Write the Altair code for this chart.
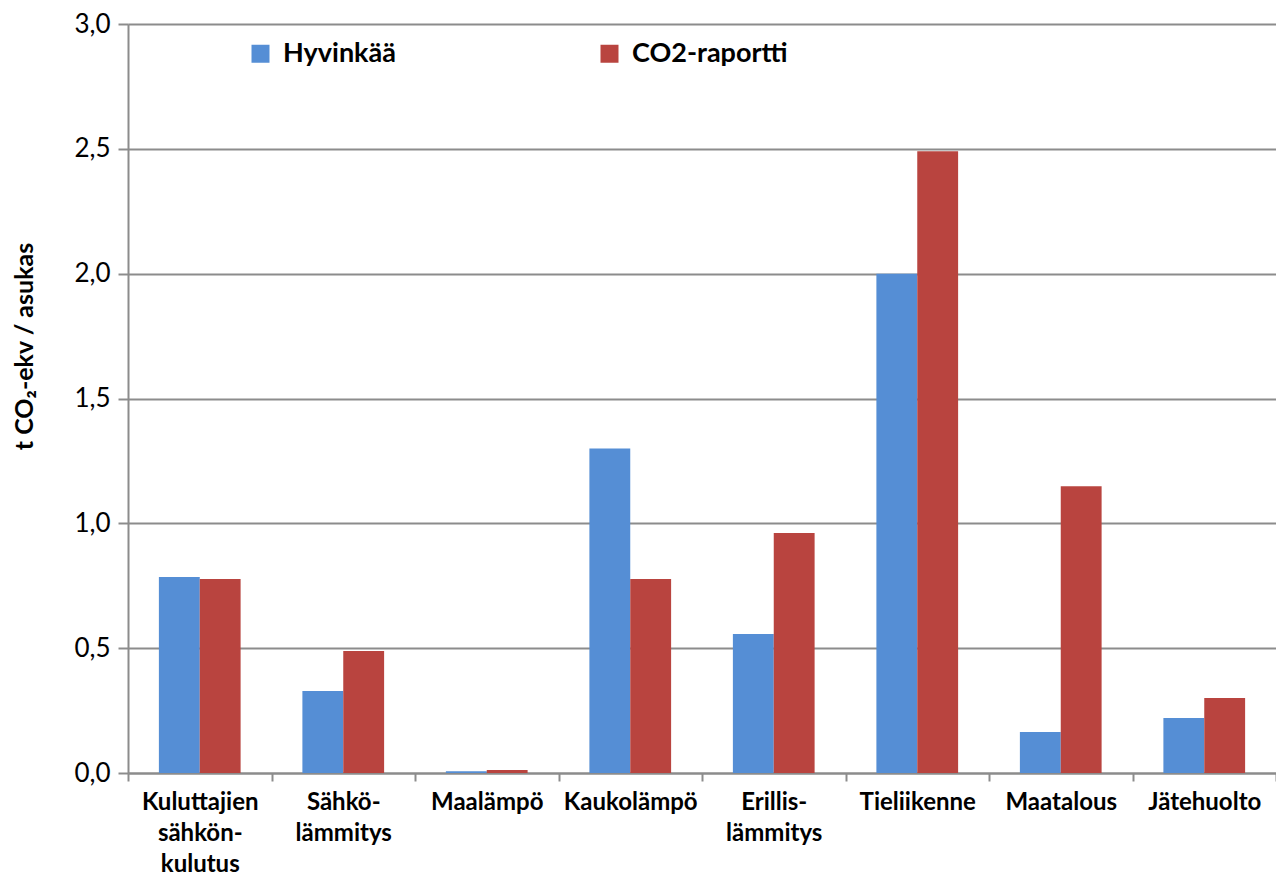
import altair as alt
import pandas as pd

categories = ["Kuluttajien\nsähkön-\nkulutus", "Sähkö-\nlämmitys", "Maalämpö", "Kaukolämpö",
              "Erillis-\nlämmitys", "Tieliikenne", "Maatalous", "Jätehuolto"]
series = ["Hyvinkää", "CO2-raportti"]
hyvinkaa = [0.785, 0.328, 0.007, 1.30, 0.557, 2.0, 0.164, 0.22]
co2_raportti = [0.777, 0.489, 0.012, 0.777, 0.961, 2.49, 1.149, 0.30]
colors = ["#558ED5", "#B9443F"]
y_ticks = [0, 0.5, 1.0, 1.5, 2.0, 2.5, 3.0]

rows = []
for c, h, r in zip(categories, hyvinkaa, co2_raportti):
    rows.append({"cat": c, "series": series[0], "value": h})
    rows.append({"cat": c, "series": series[1], "value": r})
df = pd.DataFrame(rows)

FONT = "Lato"
GRID = "#8c8c8c"

chart = alt.Chart(df).mark_bar().encode(
    x=alt.X("cat:N", sort=categories,
            scale=alt.Scale(paddingInner=0, paddingOuter=0),
            axis=alt.Axis(title=None, labelAngle=0, tickBand="extent",
                          labelExpr="split(datum.label, '\\n')",
                          labelFont=FONT, labelFontSize=24, labelFontWeight="bold",
                          labelColor="#000000", labelLineHeight=31, labelPadding=9,
                          tickSize=8, tickColor=GRID, tickWidth=2,
                          domainColor=GRID, domainWidth=2, grid=False)),
    xOffset=alt.XOffset("series:N", sort=series,
                        scale=alt.Scale(paddingInner=0, paddingOuter=0.756)),
    y=alt.Y("value:Q", scale=alt.Scale(domain=[0, 3], nice=False),
            axis=alt.Axis(title="t CO₂-ekv / asukas", values=y_ticks,
                          labelExpr="replace(format(datum.value, '.1f'), '.', ',')",
                          labelFont=FONT, labelFontSize=26, labelColor="#000000",
                          labelPadding=8, tickSize=10, tickColor=GRID, tickWidth=2,
                          domainColor=GRID, domainWidth=2,
                          gridColor=GRID, gridWidth=2,
                          titleFont=FONT, titleFontSize=25, titleFontWeight="bold",
                          titleColor="#000000", titleX=-104, titleY=322,
                          titleAlign="center", titleBaseline="middle", titleAngle=270)),
    color=alt.Color("series:N", sort=series,
                    scale=alt.Scale(domain=series, range=colors),
                    legend=alt.Legend(title=None, orient="none", legendX=119, legendY=16,
                                      direction="horizontal", symbolType="square",
                                      symbolSize=324, symbolStrokeWidth=0,
                                      labelFont=FONT, labelFontSize=27,
                                      labelFontWeight="bold", labelColor="#000000",
                                      labelOffset=9, columnPadding=200, padding=0)),
).properties(
    width=1148, height=749,
    autosize=alt.AutoSizeParams(type="none"),
    padding={"left": 120, "top": 16, "right": 0, "bottom": 102},
).configure_view(stroke=None).configure(background="white")

chart.save("out.html", embed_options={"renderer": "svg", "actions": False})
